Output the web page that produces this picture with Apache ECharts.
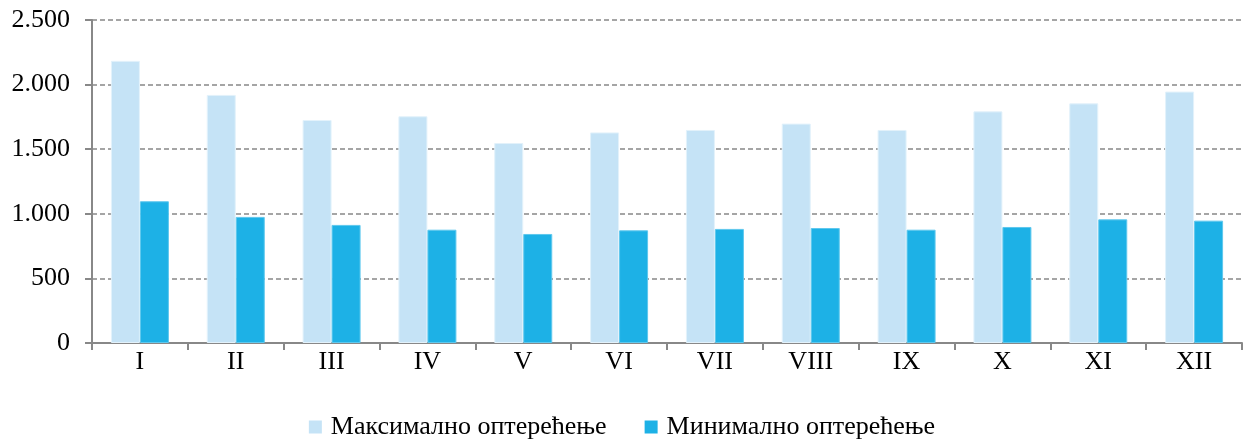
<!DOCTYPE html>
<html>
<head>
<meta charset="UTF-8">
<title>Оптерећење по месецима</title>
<style>
  html, body { margin: 0; padding: 0; background: #fff; }
  #chart { width: 1244px; height: 440px; }
</style>
<script src="https://cdn.jsdelivr.net/npm/echarts@6/dist/echarts.min.js"></script>
</head>
<body>
<div id="chart"></div>
<script>
// месеци
var months = ['I', 'II', 'III', 'IV', 'V', 'VI', 'VII', 'VIII', 'IX', 'X', 'XI', 'XII'];
// максимално и минимално оптерећење (MW), очитано са слике
var maxLoad = [2184, 1920, 1726, 1755, 1548, 1630, 1649, 1698, 1649, 1793, 1855, 1946];
var minLoad = [1097, 976, 914, 877, 844, 872, 883, 890, 877, 898, 957, 947];
var seriesNames = ['Максимално оптерећење', 'Минимално оптерећење'];

var font = '"Liberation Serif", "DejaVu Serif", serif';
var chart = echarts.init(document.getElementById('chart'));

var option = {
  animation: false,
  color: ['#C5E3F6', '#1DB1E6'],
  grid: { left: 92, right: 2, top: 20, bottom: 97 },
  legend: {
    data: seriesNames,
    top: 409,
    left: 'center',
    itemWidth: 13,
    itemHeight: 13,
    itemGap: 38,
    icon: 'rect',
    itemStyle: { borderWidth: 0 },
    textStyle: { fontFamily: font, fontSize: 26, color: '#000', padding: [0, 0, 0, 4] }
  },
  xAxis: {
    type: 'category',
    data: months,
    boundaryGap: true,
    axisLine: { lineStyle: { color: '#888', width: 2 } },
    axisTick: { show: true, length: 7, lineStyle: { color: '#888', width: 2 } },
    axisLabel: { fontFamily: font, fontSize: 26, color: '#000', margin: 6 }
  },
  yAxis: {
    type: 'value',
    min: 0,
    max: 2500,
    interval: 500,
    axisLine: { show: true, lineStyle: { color: '#888', width: 2 } },
    axisTick: { show: true, length: 7, lineStyle: { color: '#888', width: 2 } },
    axisLabel: {
      fontFamily: font, fontSize: 26, color: '#000', margin: 22,
      formatter: function (v) {
        return String(v).replace(/\B(?=(\d{3})+(?!\d))/g, '.');
      }
    },
    splitLine: { lineStyle: { color: '#888', type: [5, 3], width: 1.5 } }
  },
  series: [
    {
      name: seriesNames[0],
      type: 'bar',
      data: maxLoad,
      barWidth: 29,
      barGap: '0%',
      itemStyle: { borderColor: '#E3F2FB', borderWidth: 1 }
    },
    {
      name: seriesNames[1],
      type: 'bar',
      data: minLoad,
      barWidth: 29,
      barGap: '0%',
      itemStyle: { borderColor: '#5FC8EE', borderWidth: 1 }
    }
  ]
};

chart.setOption(option);
</script>
</body>
</html>
